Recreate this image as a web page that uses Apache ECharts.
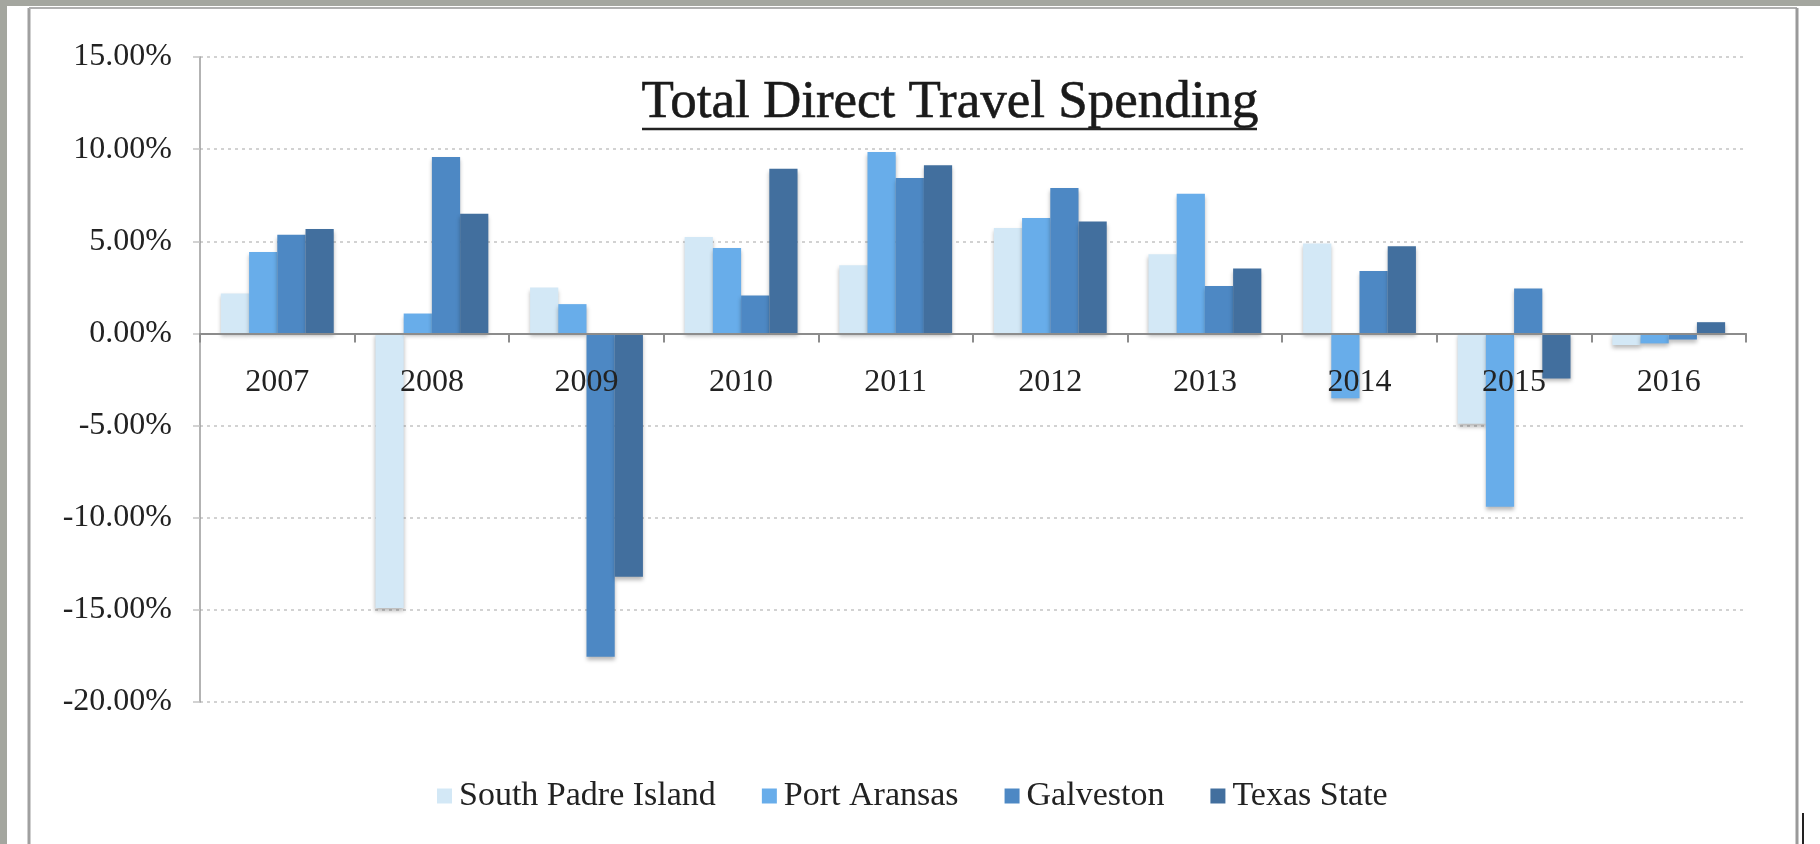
<!DOCTYPE html>
<html>
<head>
<meta charset="utf-8">
<title>Total Direct Travel Spending</title>
<script src="https://cdn.jsdelivr.net/npm/echarts@6/dist/echarts.min.js"></script>
<style>
  html, body { margin: 0; padding: 0; background: #ffffff; }
  #chart { width: 1820px; height: 844px; }
</style>
</head>
<body>
<div id="chart"></div>
<script>
// Year-over-year change in direct travel spending, percent
const years = ['2007', '2008', '2009', '2010', '2011', '2012', '2013', '2014', '2015', '2016'];
const southPadreIsland = [2.17, -14.9, 2.49, 5.23, 3.7, 5.72, 4.3, 4.88, -4.9, -0.63];
const portAransas      = [4.42, 1.08, 1.59, 4.64, 9.84, 6.26, 7.58, -3.52, -9.4, -0.54];
const galveston        = [5.36, 9.57, -17.55, 2.06, 8.43, 7.89, 2.58, 3.39, 2.44, -0.33];
const texasState       = [5.67, 6.5, -13.2, 8.94, 9.13, 6.07, 3.52, 4.73, -2.44, 0.61];
const seriesNames = ['South Padre Island', 'Port Aransas', 'Galveston', 'Texas State'];
const titleText = 'Total Direct Travel Spending';

const SERIF = "'Liberation Serif', 'Times New Roman', serif";
const palette = ['#d3e8f6', '#68adea', '#4d88c4', '#426f9e'];
const GRID = { left: 200, right: 74, top: 57, bottom: 142 };

const chart = echarts.init(document.getElementById('chart'), null, { renderer: 'canvas' });

function barSeries(name, data, color) {
  return {
    name: name,
    type: 'bar',
    data: data,
    barGap: '0%',
    barCategoryGap: '27%',
    itemStyle: {
      color: color,
      shadowColor: 'rgba(0,0,0,0.28)',
      shadowBlur: 4,
      shadowOffsetY: 3
    }
  };
}

const option = {
  backgroundColor: '#ffffff',
  animation: false,
  color: palette,
  grid: Object.assign({ containLabel: false }, GRID),
  xAxis: {
    type: 'category',
    data: years,
    offset: 0,
    axisLine: { onZero: false, lineStyle: { color: '#8c8c8c', width: 2 } },
    axisTick: { show: true, length: 9, lineStyle: { color: '#8c8c8c', width: 2 } },
    axisLabel: { margin: 33, fontFamily: SERIF, fontSize: 32, color: '#222' },
    z: 5
  },
  yAxis: {
    type: 'value',
    min: -20,
    max: 15,
    interval: 5,
    axisLine: { show: true, lineStyle: { color: '#9a9a9a', width: 1.5 } },
    axisTick: { show: true, length: 7, lineStyle: { color: '#c4c4c4', width: 1.5 } },
    splitLine: { show: true, lineStyle: { color: '#c4c4c4', width: 1.5, type: [3, 4] } },
    axisLabel: {
      margin: 28,
      fontFamily: SERIF,
      fontSize: 32,
      color: '#222',
      formatter: v => v.toFixed(2) + '%'
    }
  },
  legend: {
    data: seriesNames,
    left: 432,
    top: 774,
    icon: 'rect',
    itemWidth: 15,
    itemHeight: 15,
    itemGap: 46,
    textStyle: { fontFamily: SERIF, fontSize: 34, color: '#222', padding: [14, 0, 0, 2] }
  },
  graphic: [
    // scanned page margins and frame
    { type: 'rect', shape: { x: 0, y: 0, width: 7, height: 844 }, style: { fill: '#a4a69f' }, silent: true },
    { type: 'rect', shape: { x: 0, y: 0, width: 1820, height: 6 }, style: { fill: '#a4a69f' }, silent: true },
    { type: 'line', shape: { x1: 29, y1: 8, x2: 29, y2: 844 }, style: { stroke: '#a0a0a0', lineWidth: 3 }, silent: true },
    { type: 'line', shape: { x1: 29, y1: 8, x2: 1797, y2: 8 }, style: { stroke: '#b0b0b0', lineWidth: 2 }, silent: true },
    { type: 'line', shape: { x1: 1797, y1: 8, x2: 1797, y2: 844 }, style: { stroke: '#9a9a9a', lineWidth: 3 }, silent: true },
    { type: 'line', shape: { x1: 1803, y1: 813, x2: 1803, y2: 844 }, style: { stroke: '#222', lineWidth: 2 }, silent: true },
    // underlined title
    {
      type: 'text',
      x: 950,
      y: 103,
      style: {
        text: titleText,
        fontFamily: SERIF,
        fontSize: 53,
        fill: '#1a1a1a',
        stroke: '#1a1a1a',
        lineWidth: 0.6,
        align: 'center',
        verticalAlign: 'middle'
      },
      z: 10
    },
    { type: 'line', shape: { x1: 642, y1: 129, x2: 1257, y2: 129 }, style: { stroke: '#222', lineWidth: 2.5 }, z: 10 }
  ],
  series: [
    barSeries(seriesNames[0], southPadreIsland, palette[0]),
    barSeries(seriesNames[1], portAransas, palette[1]),
    barSeries(seriesNames[2], galveston, palette[2]),
    barSeries(seriesNames[3], texasState, palette[3])
  ]
};

chart.setOption(option);

// Move the category axis (line, ticks and year labels) up to the 0% line
const zeroY = chart.convertToPixel({ yAxisIndex: 0 }, 0);
const gridBottomY = chart.getHeight() - GRID.bottom;
chart.setOption({ xAxis: { offset: zeroY - gridBottomY } });
</script>
</body>
</html>
